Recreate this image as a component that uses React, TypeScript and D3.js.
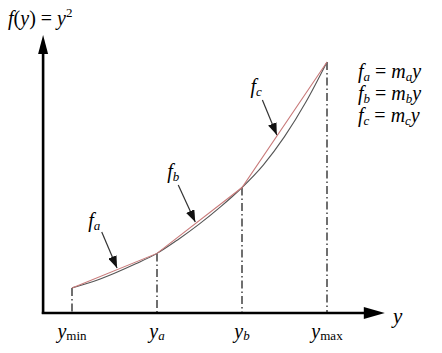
import React from "react";
import * as d3 from "d3";

// knots along the y axis (abscissa) and the value of f at each knot
const knotNames = ["min", "a", "b", "max"];
const knotY = [1, 2, 3, 4];
const knotF = [1.6, 3.8, 8.0, 16];

// sampled points of the curve f(y) = y^2 as drawn
const curveY = [1, 1.25, 1.5, 1.75, 2, 2.25, 2.5, 2.75, 3, 3.25, 3.5, 3.75, 4];
const curveF = [1.6, 2.01, 2.54, 3.14, 3.8, 4.69, 5.68, 6.78, 8.0, 9.43, 11.24, 13.43, 16];

// annotation arrows: label subscript, label anchor, arrow start, arrow tip (data units)
const annSub = ["a", "b", "c"];
const annLabelY = [1.19, 2.12, 3.1];
const annLabelF = [5.5, 8.6, 14.0];
const annStartY = [1.35, 2.25, 3.24];
const annStartF = [5.16, 8.16, 13.58];
const annTipY = [1.53, 2.45, 3.41];
const annTipF = [2.87, 5.8, 11.35];

const legendSubs = ["a", "b", "c"];

const axisYMin = 0.66;
const axisYMax = 4.68;
const axisFMax = 17.72;

const TF: React.CSSProperties = { fontFamily: "Liberation Serif" };

export default function App() {
  const W = 442, H = 353;
  const x = d3.scaleLinear().domain([0, 5]).range([-13, 412]);
  const yS = d3.scaleLinear().domain([0, 16]).range([313, 62]);

  const curve = d3
    .line<number>()
    .x((_, i) => x(curveY[i]))
    .y((d) => yS(d))
    .curve(d3.curveMonotoneX)(curveF) as string;

  const chords = d3
    .line<number>()
    .x((_, i) => x(knotY[i]))
    .y((d) => yS(d))(knotF) as string;

  const x0 = x(axisYMin), y0 = yS(0);
  const xEnd = x(axisYMax), yEnd = yS(axisFMax);

  return (
    <svg width={W} height={H} style={{ position: "absolute", left: 0, top: 0, background: "#fff" }}>
      <defs>
        <marker id="ah" viewBox="0 0 12 9" refX="12" refY="4.5" markerWidth="12" markerHeight="9" markerUnits="userSpaceOnUse" orient="auto">
          <path d="M0,0 L12,4.5 L0,9 Z" fill="#111" />
        </marker>
      </defs>

      {/* dash-dot drop lines */}
      {knotY.map((k, i) => (
        <line key={"d" + i} x1={x(k)} x2={x(k)} y1={yS(knotF[i])} y2={y0} stroke="#333" strokeWidth={1.4} strokeDasharray="8,3,1.5,3" />
      ))}

      {/* curve and chords */}
      <path d={curve} fill="none" stroke="#555" strokeWidth={1.1} />
      <path d={chords} fill="none" stroke="#c97a7a" strokeWidth={1.1} />

      {/* axes */}
      <line x1={x0} x2={x0} y1={y0 + 1} y2={yEnd + 16} stroke="#000" strokeWidth={2.6} />
      <path d={`M${x0 - 5},${yEnd + 19} L${x0},${yEnd} L${x0 + 5},${yEnd + 19} Z`} fill="#000" />
      <line x1={x0 - 1.3} x2={xEnd - 18} y1={y0} y2={y0} stroke="#000" strokeWidth={2.6} />
      <path d={`M${xEnd - 21},${y0 - 6} L${xEnd},${y0} L${xEnd - 21},${y0 + 6} Z`} fill="#000" />

      {/* annotations */}
      {annSub.map((s, i) => (
        <g key={"a" + i}>
          <line x1={x(annStartY[i])} y1={yS(annStartF[i])} x2={x(annTipY[i])} y2={yS(annTipF[i])} stroke="#333" strokeWidth={1.2} markerEnd="url(#ah)" />
          <text x={x(annLabelY[i])} y={yS(annLabelF[i])} fontSize={20} fontStyle="italic" style={TF}>
            f<tspan fontSize={13} dy={3}>{s}</tspan>
          </text>
        </g>
      ))}

      {/* title */}
      <text x={8} y={25} fontSize={20} style={TF}>
        <tspan fontStyle="italic">f</tspan>(<tspan fontStyle="italic">y</tspan>) = <tspan fontStyle="italic">y</tspan>
        <tspan fontSize={13} dy={-8}>2</tspan>
      </text>

      {/* legend */}
      {legendSubs.map((s, i) => (
        <text key={"l" + i} x={358} y={78 + i * 22} fontSize={20} style={TF}>
          <tspan fontStyle="italic">f</tspan>
          <tspan fontSize={13} fontStyle="italic" dy={3}>{s}</tspan>
          <tspan dy={-3}> = </tspan>
          <tspan fontStyle="italic">m</tspan>
          <tspan fontSize={13} fontStyle="italic" dy={3}>{s}</tspan>
          <tspan fontStyle="italic" dy={-3}>y</tspan>
        </text>
      ))}

      {/* bottom labels */}
      {knotY.map((k, i) => {
        const up = knotNames[i].length > 1;
        return (
          <text key={"b" + i} x={x(k)} y={338} fontSize={20} textAnchor="middle" style={TF}>
            <tspan fontStyle="italic">y</tspan>
            <tspan fontSize={13} fontStyle={up ? "normal" : "italic"} dy={2}>{knotNames[i]}</tspan>
          </text>
        );
      })}
      <text x={393} y={323} fontSize={21} fontStyle="italic" style={TF}>y</text>
    </svg>
  );
}
